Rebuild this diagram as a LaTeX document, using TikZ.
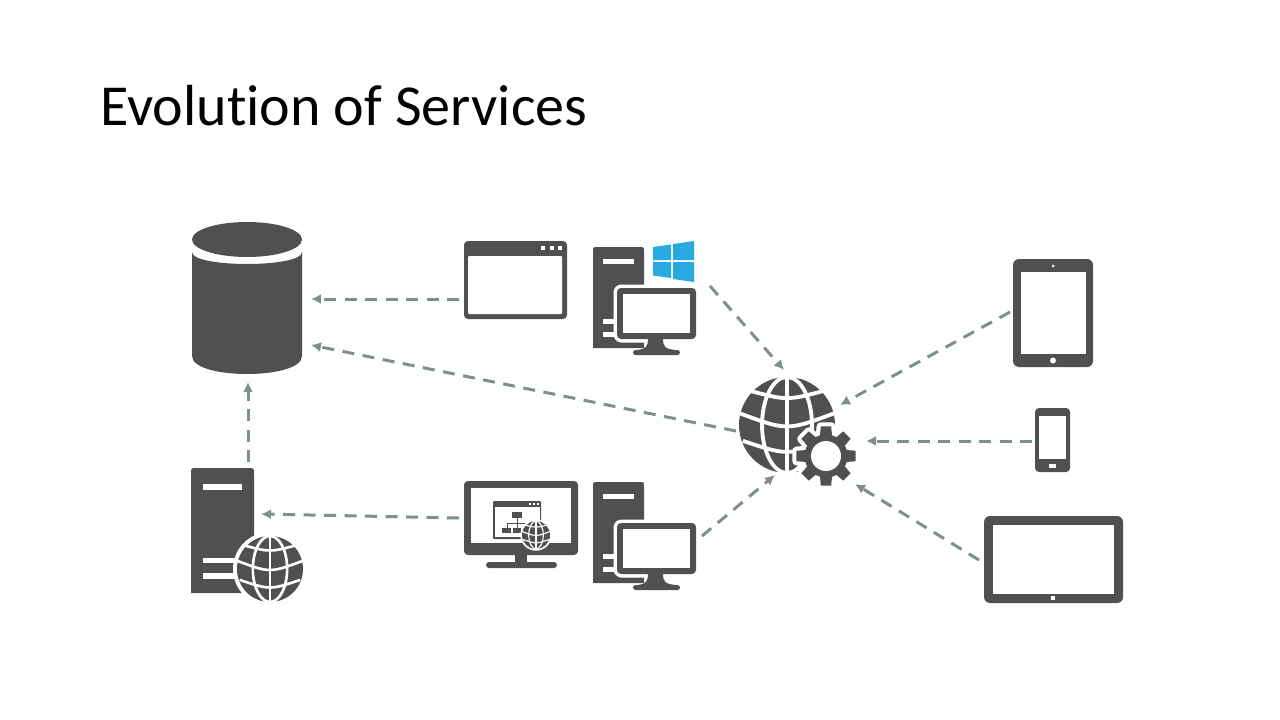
\documentclass[tikz,border=0pt]{standalone}
\usepackage{fontspec}
\setmainfont[Ligatures=NoCommon]{Carlito}
\usetikzlibrary{arrows.meta}
\definecolor{icongray}{HTML}{505050}
\definecolor{flowgray}{HTML}{7F8F8C}
\definecolor{winblue}{HTML}{27AAE1}
\newcommand{\gearoutline}{(-10:.72) \foreach \a in {0,45,...,315} {-- (\a-16:.72) -- (\a-10:1) -- (\a+10:1) -- (\a+16:.72) -- (\a+29:.72)} -- cycle}
\tikzset{
  flow/.style={->,dashed,flowgray,line width=3pt,dash pattern=on 12pt off 8.5pt},
  icon/.style={fill=icongray},
  hole/.style={fill=white},
  pics/globe/.style={code={
    \begin{scope}[scale=#1]
      \fill[white] (0,0) circle (1.12);
      \fill[icon] (0,0) circle (1);
      \begin{scope}[white,line width=.08*#1 pt]
        \draw (0,0) ellipse[x radius=.52,y radius=1];
        \draw (0,-1)--(0,1);
        \draw (-.8,-.72) .. controls (0,-.507) .. (.8,-.72);
        \draw (-1,-.25) .. controls (0,.123) .. (1,-.25);
        \draw (-.92,.33) .. controls (0,.637) .. (.92,.33);
      \end{scope}
    \end{scope}}},
  pics/gear/.style={code={
    \begin{scope}[scale=#1]
      \draw[white,line width=.28*#1 pt,line join=round] \gearoutline;
      \fill[icon] \gearoutline;
      \fill[hole] (0,0) circle (.5);
    \end{scope}}},
  pics/desktop/.style={code={
    \fill[icon] (0,101) -- (0,5) .. controls (0,0) .. (5,0) -- (46,0) .. controls (51,0) .. (51,5) -- (51,101) -- cycle;
    \fill[hole] (10,12) rectangle (41,17);
    \fill[hole] (10,72) rectangle (30,77);
    \fill[hole] (10,85) rectangle (30,90);
    \draw[white,line width=7pt,line join=round,fill=white,rounded corners=4pt] (24,41) rectangle (103,92);
    \draw[white,line width=7pt,line cap=round] (62,92)--(62,102) (43,105.5)--(84,105.5);
    \fill[icon,rounded corners=4pt] (24,41) rectangle (103,92);
    \fill[hole] (30,47) rectangle (97,86);
    \fill[icon] (55,91) .. controls (55,100) and (53,102) .. (44,103) -- (83,103) .. controls (72,102) and (70,100) .. (70,91) -- cycle;
    \fill[icon,rounded corners=2.5pt] (40,103) rectangle (87,108);}}
}
\begin{document}
\begin{tikzpicture}[>={Latex[length=10pt,width=10pt]},x=1pt,y=-1pt]
\useasboundingbox (0,0) rectangle (1280,720);
\node[anchor=base west,inner sep=0pt,font=\fontsize{58}{64}\selectfont] (title) at (100,125) {Evolution of Services};

% database
\fill[icon] (247,239.5) ellipse[x radius=55,y radius=17.5];
\fill[icon] (192,252) .. controls (192,268) and (302,268) .. (302,252) -- (302,356) .. controls (302,380) and (192,380) .. (192,356) -- cycle;
\coordinate (dbTop) at (311,299);
\coordinate (dbMid) at (311,345);
\coordinate (dbBot) at (248,382);

% web server with globe
\fill[icon] (191,593) -- (191,474) .. controls (191,468) .. (197,468) -- (248,468) .. controls (254,468) .. (254,474) -- (254,593) -- cycle;
\fill[hole] (203,484) rectangle (242,490);
\fill[hole] (203,558) rectangle (245,563);
\fill[hole] (203,573) rectangle (245,579);
\pic at (270,569) {globe=33};
\coordinate (srvTop) at (248,462);
\coordinate (srvIn) at (261,514);

% browser window
\fill[icon,rounded corners=4pt] (464,241) rectangle (567,319);
\fill[hole,rounded corners=1pt] (468,256) rectangle (562,314);
\foreach \x in {541,549.5,558}
  \fill[hole] (\x,246) rectangle +(4,4);
\coordinate (winOut) at (459,299);

% windows logo
\fill[winblue] (653,247)--(671,244.5)--(671,260)--(653,260)--cycle;
\fill[winblue] (673,244)--(694,241)--(694,260)--(673,260)--cycle;
\fill[winblue] (653,262)--(671,262)--(671,278)--(653,275.5)--cycle;
\fill[winblue] (673,262)--(694,262)--(694,282)--(673,279)--cycle;

% desktops
\pic at (593,247) {desktop};
\pic at (593,482) {desktop};
\coordinate (pcTop) at (710,286);
\coordinate (pcBot) at (702,536);

% web monitor
\fill[icon,rounded corners=4pt] (464,481) rectangle (578,555);
\fill[hole] (471,488) rectangle (571,543);
\fill[icon] (515,554) rectangle (527,563);
\fill[icon,rounded corners=3pt] (486,562) rectangle (557,568);
\fill[icon,rounded corners=1pt] (493,501) rectangle (541,539);
\fill[hole] (495,507) rectangle (539.5,537);
\foreach \x in {529,533,537}
  \fill[hole] (\x,503) rectangle +(2,2);
\fill[icon] (512,512) rectangle (522,518);
\fill[icon] (502,528) rectangle (511,533);
\fill[icon] (513,528) rectangle (521,533);
\draw[icongray,line width=1pt] (517,518)--(517,528) (507,528)--(507,523)--(530,523)--(530,528);
\pic at (536,535) {globe=14};
\coordinate (monOut) at (459,518);

% service globe and gear
\pic at (787,425) {globe=48};
\pic at (826,456) {gear=30};
\coordinate (hubOut) at (736,431);
\coordinate (hubTop) at (784,370);
\coordinate (hubBot) at (775,475);
\coordinate (hubA) at (840,405);
\coordinate (hubB) at (866,441);
\coordinate (hubC) at (855,484);

% tablet
\fill[icon,rounded corners=6pt] (1013,259) rectangle (1093,367);
\fill[hole] (1021,272) rectangle (1086,354);
\fill[hole] (1053,266) circle (1.5);
\fill[hole] (1053,360.5) circle (3);
\coordinate (tabOut) at (1010,312);

% phone
\fill[icon,rounded corners=4pt] (1035,408) rectangle (1070,472);
\fill[hole] (1039,416) rectangle (1066,459);
\fill[hole] (1049,464) rectangle (1056,467.5);
\coordinate (phoneOut) at (1032,441);

% slate
\fill[icon,rounded corners=6pt] (984,516) rectangle (1123,603);
\fill[hole] (993,525) rectangle (1114,594);
\fill[hole] (1051,596) rectangle (1055,600);
\coordinate (slateOut) at (979,560);

\draw[flow] (winOut)--(dbTop);
\draw[flow] (hubOut)--(dbMid);
\draw[flow] (srvTop)--(dbBot);
\draw[flow] (monOut)--(srvIn);
\draw[flow] (pcTop)--(hubTop);
\draw[flow] (pcBot)--(hubBot);
\draw[flow] (tabOut)--(hubA);
\draw[flow] (phoneOut)--(hubB);
\draw[flow] (slateOut)--(hubC);
\end{tikzpicture}
\end{document}
